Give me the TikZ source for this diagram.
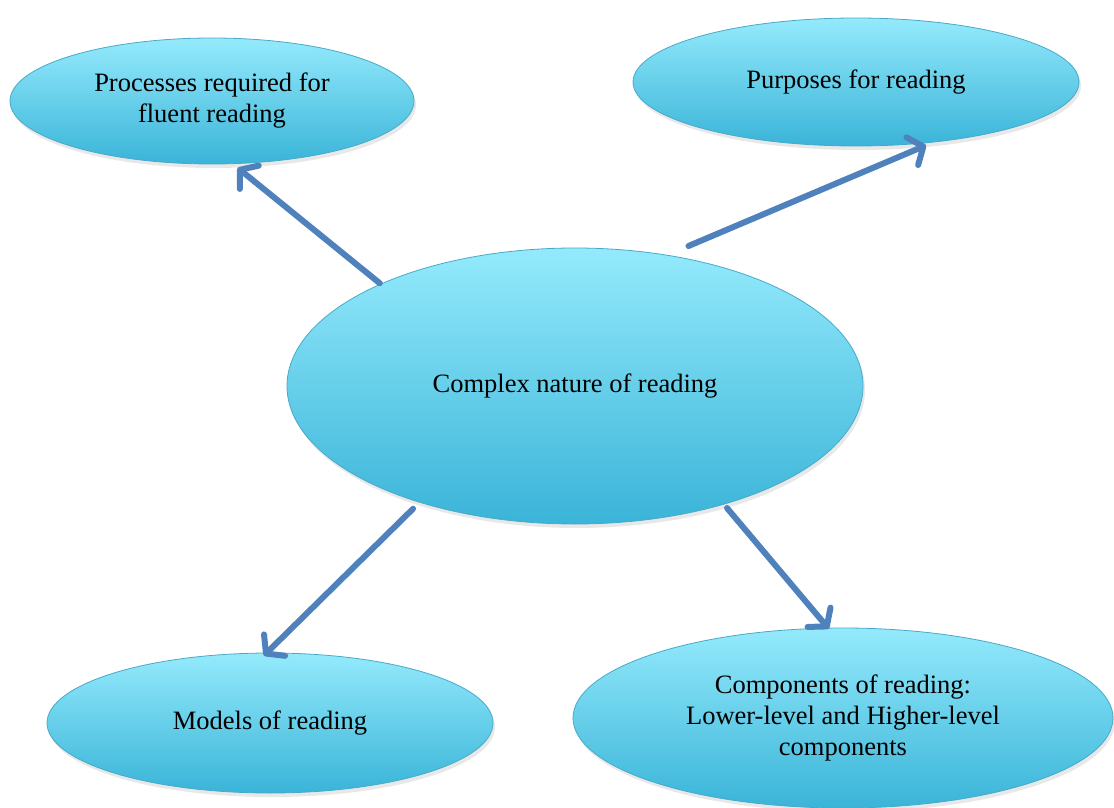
\documentclass[tikz,border=0pt]{standalone}
\usepackage{fontspec}
\setmainfont{Liberation Serif}
\usetikzlibrary{shapes.geometric,arrows.meta,shadows}
\definecolor{topc}{RGB}{148,234,252}
\definecolor{botc}{RGB}{58,180,216}
\definecolor{edgec}{RGB}{72,170,200}
\definecolor{arrc}{RGB}{79,129,189}
\tikzset{
  bubble/.style={ellipse, draw=edgec, line width=0.8pt, top color=topc, bottom color=botc,
    inner sep=0pt, align=center, font=\fontsize{26.5}{31}\selectfont,
    drop shadow={opacity=0.18, shadow xshift=2pt, shadow yshift=-4pt}},
  link/.style={draw=arrc, line width=6pt, line cap=round, line join=round,
    -{Straight Barb[length=12pt,width=30pt,line cap=round,line join=round]}}
}
\begin{document}
\begin{tikzpicture}[x=1pt,y=-1pt]
\useasboundingbox (0,0) rectangle (1114,808);
\node[bubble, minimum width=404pt, minimum height=126pt] (tl) at (212,101) {Processes required for\\fluent reading};
\node[bubble, minimum width=446pt, minimum height=128pt] (tr) at (856,82) {Purposes for reading};
\node[bubble, minimum width=576pt, minimum height=276pt] (c) at (575,386) {Complex nature of reading};
\node[bubble, minimum width=446pt, minimum height=140pt] (bl) at (270,723) {Models of reading};
\node[bubble, minimum width=540pt, minimum height=180pt] (br) at (843,718) {Components of reading:\\Lower-level and Higher-level\\components};
\draw[link] ([shift={(-2pt,0pt)}]c.152) -- ([shift={(-1pt,-4pt)}]tl.293);
\draw[link] ([shift={(9pt,11pt)}]c.51) -- ([shift={(2pt,-2pt)}]tr.318);
\draw[link] ([shift={(-7pt,-6pt)}]c.217) -- ([shift={(0pt,-3pt)}]bl.95);
\draw[link] ([shift={(5pt,-3pt)}]c.321) -- ([shift={(0pt,-1pt)}]br.99);
\end{tikzpicture}
\end{document}
